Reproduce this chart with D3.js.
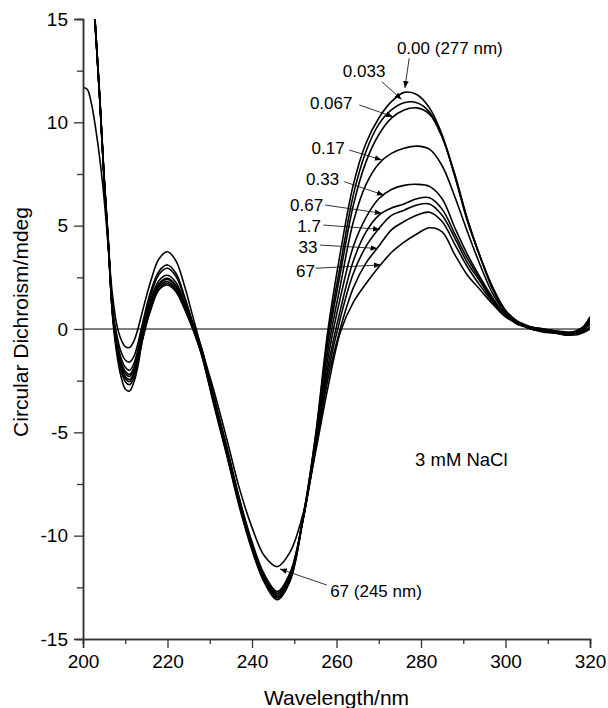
<!DOCTYPE html>
<html>
<head>
<meta charset="utf-8">
<script src="https://cdn.jsdelivr.net/npm/d3@7"></script>
<style>
  body { margin: 0; background: #fff; }
  text { font-family: "Liberation Sans", Arial, sans-serif; }
</style>
</head>
<body>
<div id="chart"></div>
<script>
// wavelengths (nm) shared by all spectra
var wavelengths = [200,201,202,203,204,205,206,207,208,209,210,211,212,213,214,216,218,220,222,224,226,228,
  231,234,237,240,243,246,249,252,255,258,261,264,267,270,273,276,279,282,285,288,291,294,297,300,
  303,306,309,312,315,318,320];

// CD spectra (mdeg), one per ratio
var cd000 = [23.0,20.5,17.6,14.4,11.0,7.2,4.0,0.6,-1.2,-2.3,-2.9,-3.0,-2.6,-1.8,-0.6,0.9,1.9,2.13,1.8,1.0,0.0,-1.2,
  -3.6,-6.0,-8.5,-10.6,-12.2,-13.0,-12.1,-9.2,-5.2,0.0,3.8,7.0,9.0,10.2,11.0,11.45,11.35,10.7,9.4,7.4,5.2,3.5,2.0,0.9,
  0.3,0.0,-0.1,-0.2,-0.25,-0.1,0.4];
var cd033 = [23.2,20.6,17.7,14.5,11.1,7.3,4.0,0.7,-1.0,-2.0,-2.55,-2.7,-2.4,-1.6,-0.6,1.0,1.95,2.2,1.85,1.0,0.0,-1.2,
  -3.7,-6.1,-8.6,-10.7,-12.3,-13.1,-12.2,-9.3,-5.3,-0.3,3.2,6.5,8.6,9.9,10.6,10.95,10.95,10.5,9.3,7.4,5.3,3.5,2.0,0.9,
  0.35,0.05,-0.05,-0.15,-0.2,-0.05,0.2];
var cd067 = [22.8,20.4,17.5,14.3,11.0,7.2,4.1,0.7,-0.9,-1.9,-2.4,-2.55,-2.25,-1.5,-0.5,1.1,2.05,2.29,1.95,1.1,0.05,-1.1,
  -3.6,-6.0,-8.5,-10.6,-12.2,-12.9,-12.0,-9.2,-5.4,-0.6,2.8,6.0,8.1,9.4,10.2,10.6,10.7,10.4,9.3,7.5,5.3,3.5,1.9,0.8,
  0.3,0.1,-0.1,-0.2,-0.3,-0.2,0.5];
var cd017 = [23.1,20.5,17.6,14.4,11.1,7.3,4.1,0.8,-0.8,-1.8,-2.3,-2.45,-2.15,-1.4,-0.4,1.2,2.15,2.4,2.05,1.15,0.1,-1.1,
  -3.5,-5.9,-8.4,-10.6,-12.2,-13.0,-12.1,-9.3,-5.5,-1.0,2.2,5.2,7.0,8.0,8.5,8.75,8.85,8.7,7.9,6.4,4.7,3.1,1.7,0.8,
  0.25,0.0,-0.15,-0.2,-0.2,0.0,0.6];
var cd033b = [22.9,20.4,17.5,14.4,11.0,7.2,4.1,0.8,-0.7,-1.7,-2.15,-2.3,-2.0,-1.3,-0.3,1.3,2.2,2.45,2.1,1.2,0.1,-1.0,
  -3.5,-5.9,-8.4,-10.5,-12.1,-12.9,-12.0,-9.3,-5.6,-1.4,1.6,4.0,5.4,6.3,6.75,6.95,7.0,6.9,6.3,4.9,3.6,2.5,1.5,0.7,
  0.3,0.05,-0.1,-0.15,-0.25,-0.1,0.3];
var cd067b = [23.0,20.5,17.6,14.5,11.1,7.3,4.2,0.9,-0.6,-1.6,-2.05,-2.2,-1.9,-1.2,-0.2,1.4,2.35,2.6,2.25,1.3,0.15,-1.0,
  -3.4,-5.8,-8.3,-10.4,-12.0,-12.8,-11.9,-9.3,-5.7,-1.8,1.0,3.3,4.7,5.5,5.85,6.05,6.3,6.35,5.8,4.6,3.4,2.4,1.4,0.7,
  0.2,0.1,0.0,-0.1,-0.2,-0.15,0.1];
var cd17 = [22.7,20.3,17.4,14.3,11.0,7.3,4.2,0.9,-0.5,-1.4,-1.85,-2.0,-1.7,-1.0,0.0,1.6,2.65,2.94,2.55,1.5,0.25,-0.9,
  -3.3,-5.7,-8.2,-10.4,-12.0,-12.8,-11.9,-9.3,-5.8,-2.1,0.6,2.7,4.0,4.85,5.5,5.75,6.0,6.05,5.5,4.4,3.2,2.3,1.35,0.6,
  0.25,0.05,-0.05,-0.2,-0.3,-0.05,0.45];
var cd33 = [22.9,20.4,17.5,14.4,11.1,7.4,4.3,1.0,-0.3,-1.1,-1.5,-1.6,-1.35,-0.7,0.2,1.8,2.8,3.1,2.7,1.6,0.3,-0.9,
  -3.3,-5.7,-8.2,-10.3,-11.9,-12.7,-11.8,-9.3,-5.9,-2.4,0.1,2.0,3.2,4.0,4.8,5.2,5.5,5.65,5.2,4.1,3.0,2.1,1.3,0.6,
  0.3,0.0,-0.1,-0.15,-0.2,0.05,0.55];
var cd67 = [11.7,11.6,10.9,9.7,8.2,6.3,3.9,1.6,0.2,-0.5,-0.85,-0.9,-0.6,0.0,0.8,2.3,3.4,3.74,3.3,2.1,0.6,-0.9,
  -3.0,-5.3,-7.7,-9.6,-11.0,-11.5,-10.8,-9.0,-6.0,-2.8,-0.1,1.3,2.2,3.0,3.7,4.2,4.6,4.9,4.7,3.6,2.6,1.9,1.2,0.6,
  0.35,0.1,0.0,-0.1,-0.15,-0.2,0.0];

var spectra = [cd000, cd033, cd067, cd017, cd033b, cd067b, cd17, cd33, cd67];

// tick values
var xTicks = [200, 220, 240, 260, 280, 300, 320];
var xMinor = [210, 230, 250, 270, 290, 310];
var yTicks = [-15, -10, -5, 0, 5, 10, 15];
var yMinor = [-12.5, -7.5, -2.5, 2.5, 7.5, 12.5];

// annotation labels: text, label position [nm, mdeg], arrow from / to [nm, mdeg]
var labels = ["0.00 (277 nm)", "0.033", "0.067", "0.17", "0.33", "0.67", "1.7", "33", "67", "67 (245 nm)"];
var labelAt = [[274.3, 13.3], [261.5, 12.18], [253.7, 10.63], [254.1, 8.47], [252.8, 6.97],
  [249.0, 5.72], [250.7, 4.71], [251.0, 3.69], [250.4, 2.5], [258.5, -12.97]];
var arrowFrom = [[277.2, 13.1], [270.7, 11.97], [265.4, 10.84], [263.0, 8.66], [261.8, 7.13],
  [257.3, 6.0], [256.9, 5.03], [256.1, 4.06], [255.1, 2.94], [257.7, -12.39]];
var arrowTo = [[276.2, 11.66], [275.4, 11.11], [273.4, 10.27], [270.7, 8.18], [271.2, 6.48],
  [270.7, 5.6], [270.3, 4.82], [269.7, 3.9], [270.5, 3.1], [246.6, -11.61]];

var svgWidth = 608;
var svgHeight = 708;
var margin = { top: 19, right: 18, bottom: 69, left: 83 };
var chartWidth = svgWidth - margin.left - margin.right;
var chartHeight = svgHeight - margin.top - margin.bottom;

var svg = d3.select("#chart")
  .append("svg")
  .attr("width", svgWidth)
  .attr("height", svgHeight);

var defs = svg.append("defs");
defs.append("clipPath")
  .attr("id", "plotclip")
  .append("rect")
  .attr("width", chartWidth)
  .attr("height", chartHeight);

defs.append("marker")
  .attr("id", "arrow")
  .attr("viewBox", "0 0 10 10")
  .attr("refX", 10)
  .attr("refY", 5)
  .attr("markerWidth", 7)
  .attr("markerHeight", 7)
  .attr("markerUnits", "userSpaceOnUse")
  .attr("orient", "auto")
  .append("path")
  .attr("d", "M0,1 L10,5 L0,9 Z")
  .attr("fill", "#000");

var chartGroup = svg.append("g")
  .attr("transform", `translate(${margin.left}, ${margin.top})`);

var xScale = d3.scaleLinear().domain([200, 320]).range([0, chartWidth]);
var yScale = d3.scaleLinear().domain([-15, 15]).range([chartHeight, 0]);

// zero line
chartGroup.append("line")
  .attr("x1", 0)
  .attr("x2", chartWidth)
  .attr("y1", yScale(0))
  .attr("y2", yScale(0))
  .attr("stroke", "#555")
  .attr("stroke-width", 1.5);

// spectra
var line = d3.line()
  .x((d, i) => xScale(wavelengths[i]))
  .y(d => yScale(d))
  .curve(d3.curveCatmullRom.alpha(0.5));

chartGroup.append("g")
  .attr("clip-path", "url(#plotclip)")
  .selectAll("path")
  .data(spectra)
  .enter()
  .append("path")
  .attr("d", d => line(d))
  .attr("fill", "none")
  .attr("stroke", "#000")
  .attr("stroke-width", 1.6);

// axes
function styleAxis(g) {
  g.select(".domain").attr("stroke", "#333").attr("stroke-width", 1.5);
  g.selectAll(".tick line").attr("stroke", "#333").attr("stroke-width", 1.3);
  g.selectAll("text").attr("font-size", 19).attr("fill", "#000")
    .style("font-family", '"Liberation Sans", Arial, sans-serif');
}

// plain hyphen for negatives, like the original
var plain = d => String(d);

chartGroup.append("g")
  .attr("transform", `translate(0, ${chartHeight})`)
  .call(d3.axisBottom(xScale).tickValues(xMinor).tickSize(5).tickFormat(""))
  .call(styleAxis);

chartGroup.append("g")
  .attr("transform", `translate(0, ${chartHeight})`)
  .call(d3.axisBottom(xScale).tickValues(xTicks).tickSize(9).tickPadding(7).tickFormat(plain))
  .call(styleAxis);

chartGroup.append("g")
  .call(d3.axisLeft(yScale).tickValues(yMinor).tickSize(6).tickFormat(""))
  .call(styleAxis);

chartGroup.append("g")
  .call(d3.axisLeft(yScale).tickValues(yTicks).tickSize(9).tickPadding(6).tickFormat(plain))
  .call(styleAxis);

// annotations
labels.forEach(function (t, i) {
  chartGroup.append("line")
    .attr("x1", xScale(arrowFrom[i][0]))
    .attr("y1", yScale(arrowFrom[i][1]))
    .attr("x2", xScale(arrowTo[i][0]))
    .attr("y2", yScale(arrowTo[i][1]))
    .attr("stroke", "#000")
    .attr("stroke-width", 0.8)
    .attr("marker-end", "url(#arrow)");

  chartGroup.append("text")
    .attr("x", xScale(labelAt[i][0]))
    .attr("y", yScale(labelAt[i][1]))
    .attr("font-size", 17)
    .text(t);
});

chartGroup.append("text")
  .attr("x", xScale(278.6))
  .attr("y", yScale(-6.63))
  .attr("font-size", 18.5)
  .text("3 mM NaCl");

// axis titles
chartGroup.append("text")
  .attr("transform", "rotate(-90)")
  .attr("x", -(322 - margin.top))
  .attr("y", -margin.left + 28)
  .attr("text-anchor", "middle")
  .attr("font-size", 21)
  .text("Circular Dichroism/mdeg");

chartGroup.append("text")
  .attr("x", chartWidth / 2)
  .attr("y", chartHeight + 66)
  .attr("text-anchor", "middle")
  .attr("font-size", 21)
  .text("Wavelength/nm");
</script>
</body>
</html>
